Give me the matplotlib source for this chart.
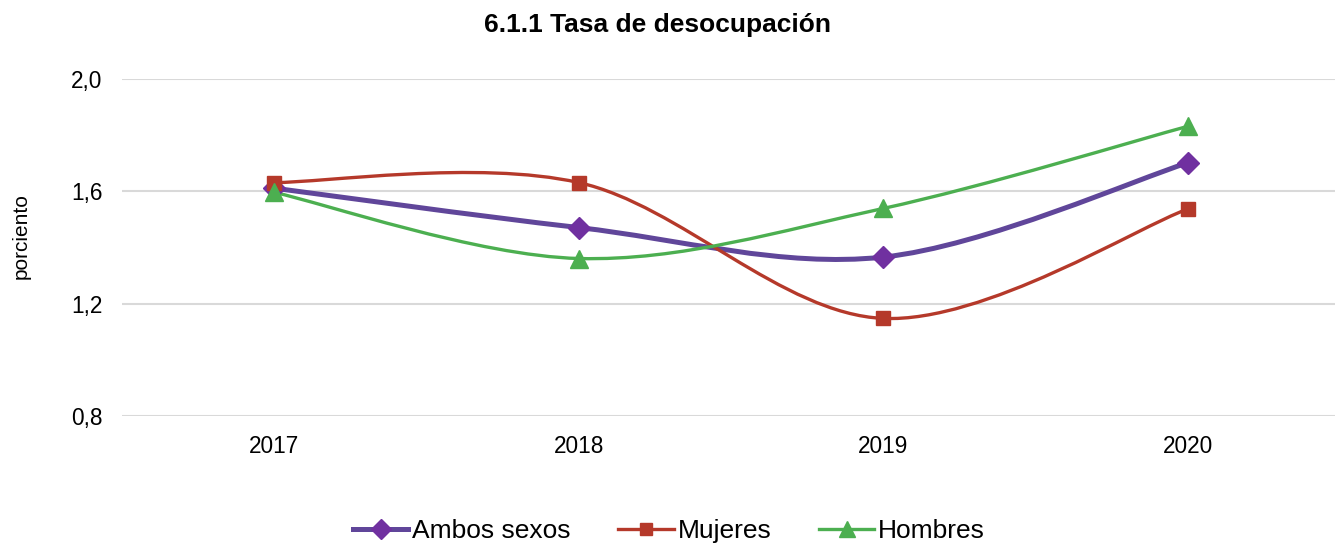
import matplotlib
matplotlib.use("Agg")
import matplotlib.pyplot as plt
from matplotlib.path import Path
from matplotlib.patches import PathPatch
from matplotlib.lines import Line2D
import numpy as np

plt.rcParams['font.family'] = ['Liberation Sans', 'DejaVu Sans']

years = ["2017", "2018", "2019", "2020"]
ambos = [1.61, 1.47, 1.365, 1.70]
mujeres = [1.63, 1.63, 1.147, 1.536]
hombres = [1.595, 1.36, 1.538, 1.83]
yticks = [0.8, 1.2, 1.6, 2.0]
ytick_labels = ["0,8", "1,2", "1,6", "2,0"]

title = "6.1.1 Tasa de desocupación"
ylabel = "porciento"


def smooth_path(xs, ys):
    pts = np.column_stack([xs, ys]).astype(float)
    n = len(pts)
    verts = [pts[0]]
    codes = [Path.MOVETO]
    for i in range(n - 1):
        p0 = pts[i - 1] if i > 0 else pts[i]
        p1 = pts[i]
        p2 = pts[i + 1]
        p3 = pts[i + 2] if i + 2 < n else pts[i + 1]
        c1 = p1 + (p2 - p0) / 6.0
        c2 = p2 - (p3 - p1) / 6.0
        verts += [c1, c2, p2]
        codes += [Path.CURVE4] * 3
    return Path(verts, codes)


fig = plt.figure(figsize=(13.35, 5.45), dpi=100)
ax = fig.add_axes([122 / 1335, 1 - 416 / 545, 1218 / 1335, (416 - 78.5) / 545])

x = np.arange(len(years))
series = [
    ("Ambos sexos", ambos, "#60469A", "#7030A0", "D", 11, 3.6),
    ("Mujeres", mujeres, "#B5392A", "#B5392A", "s", 10, 2.4),
    ("Hombres", hombres, "#4CAF50", "#4CAF50", "^", 12.5, 2.4),
]
handles = []
for name, vals, lc, mc, mk, ms, lw in series:
    handles.append(Line2D([], [], color=lc, lw=lw, marker=mk, markersize=ms * 0.9,
                          markerfacecolor=mc, markeredgecolor=mc, label=name))
for idx in [1, 2, 0]:
    name, vals, lc, mc, mk, ms, lw = series[idx]
    patch = PathPatch(smooth_path(x, vals), facecolor='none', edgecolor=lc,
                      lw=lw, capstyle='round', joinstyle='round', zorder=3 + idx)
    ax.add_patch(patch)
    ax.plot(x, vals, linestyle='none', marker=mk, markersize=ms,
            markerfacecolor=mc, markeredgecolor=mc, zorder=6 + idx)

ax.set_xlim(-0.5, 3.5)
ax.set_ylim(0.8, 2.0)
ax.set_yticks(yticks)
ax.set_yticklabels(ytick_labels)
ax.set_xticks(x)
ax.set_xticklabels(years)
ax.tick_params(axis='both', length=0, labelsize=16.3, colors='black')
ax.tick_params(axis='y', pad=14)
ax.tick_params(axis='x', pad=14)
ax.grid(axis='y', color='#D9D9D9', lw=1.5)
ax.set_axisbelow(True)
for s in ax.spines.values():
    s.set_visible(False)

fig.text(658 / 1335, 1 - 25 / 545, title, ha='center', va='center', fontsize=19,
         fontweight='bold')
fig.text(21 / 1335, 1 - 236 / 545, ylabel, ha='center', va='center',
         rotation=90, fontsize=15)

fig.legend(handles=handles, loc='center', bbox_to_anchor=(669 / 1335, 1 - 531 / 545),
           ncol=3, frameon=False, fontsize=19, handlelength=2.1,
           handletextpad=0.15, columnspacing=1.8, borderaxespad=0)

fig.savefig("out.png", dpi=100)
